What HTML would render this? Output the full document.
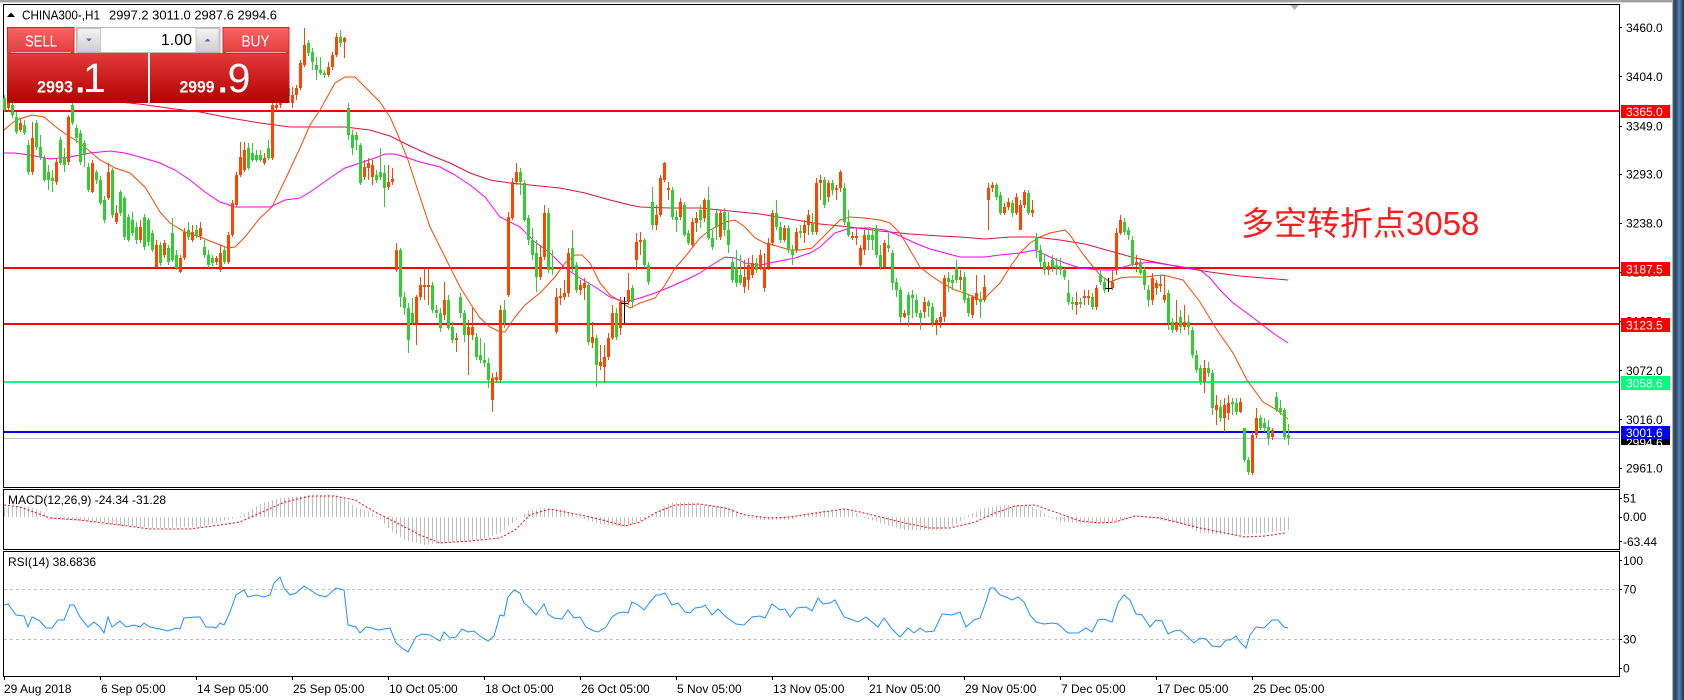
<!DOCTYPE html>
<html><head><meta charset="utf-8"><style>
html,body{margin:0;padding:0;background:#fff;}
body{width:1684px;height:700px;overflow:hidden;}
svg{display:block;}
text{font-family:"Liberation Sans",sans-serif;}
</style></head><body>
<svg width="1684" height="700" viewBox="0 0 1684 700" xmlns="http://www.w3.org/2000/svg">
<defs>
<pattern id="hp" patternUnits="userSpaceOnUse" x="0" y="0" width="4" height="700"><rect x="0" y="0" width="1" height="700" fill="#c0c0c0"/></pattern>
<linearGradient id="topBox" x1="0" y1="0" x2="0" y2="1"><stop offset="0" stop-color="#fa6464"/><stop offset="1" stop-color="#e43c3c"/></linearGradient>
<linearGradient id="lowBox" x1="0" y1="0" x2="0" y2="1"><stop offset="0" stop-color="#e33a3a"/><stop offset="1" stop-color="#b30202"/></linearGradient>
<linearGradient id="btn" x1="0" y1="0" x2="0" y2="1"><stop offset="0" stop-color="#f4f4f4"/><stop offset="1" stop-color="#cfcfcf"/></linearGradient>
<linearGradient id="edge" x1="0" y1="0" x2="1" y2="0"><stop offset="0" stop-color="#22324e"/><stop offset="0.5" stop-color="#4f86c0"/><stop offset="1" stop-color="#1e2c48"/></linearGradient>
</defs>
<rect x="0" y="0" width="1684" height="700" fill="#fff"/>
<!-- window chrome -->
<rect x="0" y="0" width="1684" height="2.4" fill="#a0a0a0"/>
<rect x="1672" y="0" width="1" height="700" fill="#b0b0b0"/>
<rect x="1673" y="0" width="1.5" height="700" fill="#5a5a5a"/>
<rect x="1674.5" y="0" width="9.5" height="700" fill="url(#edge)"/>
<polygon points="1290,5 1299,5 1294.5,10" fill="#b4b4b4"/>

<!-- panels borders -->
<rect x="3.5" y="4.5" width="1616" height="483" fill="none" stroke="#000" stroke-width="1"/>
<rect x="3.5" y="489.5" width="1616" height="60" fill="none" stroke="#000" stroke-width="1"/>
<rect x="3.5" y="551.5" width="1616" height="125" fill="none" stroke="#000" stroke-width="1"/>

<!-- horizontal level lines -->
<rect x="4" y="110" width="1615" height="2" fill="#ff0000"/>
<rect x="4" y="267" width="1615" height="2" fill="#ff0000"/>
<rect x="4" y="323" width="1615" height="2" fill="#ff0000"/>
<rect x="4" y="381" width="1615" height="2" fill="#00ff7f"/>
<rect x="4" y="431" width="1615" height="2" fill="#0000ff"/>
<rect x="4" y="438" width="1615" height="1" fill="#c0c0c0"/>

<!-- moving averages -->
<polyline fill="none" stroke="#dc143c" stroke-width="1" points="100,100 139,104 175,109 200,112 230,118 260,123 290,127 345,127 370,130 390,136 410,146 430,155 450,163 470,173 490,180 510,183 540,186 560,188 585,193 610,200 630,205 640,207 670,208 700,208 730,211 760,214 790,219 820,224 850,227 880,231 910,234 940,236 960,237 985,239 1010,237 1035,237 1060,240 1085,244 1110,251 1135,258 1160,263 1185,268 1210,272 1240,276 1288,280"/>
<polyline fill="none" stroke="#ff00ff" stroke-width="1" points="4,153 15,153 30,155 50,159 70,157 90,153 110,151 125,153 140,157 160,163 175,170 190,180 205,192 220,202 235,207 255,207 270,207 285,200 300,198 310,192 330,178 345,168 360,163 375,158 385,154 395,154 405,157 420,162 440,167 455,175 470,185 485,197 500,217 520,227 535,242 550,253 565,268 580,278 595,287 610,297 625,302 640,298 655,293 670,287 690,278 700,273 715,263 725,257 735,258 745,263 760,265 775,262 795,258 810,253 820,247 835,233 850,228 870,228 885,230 900,236 915,243 930,249 945,253 960,257 985,257 1000,255 1020,253 1035,250 1050,257 1065,263 1080,268 1100,270 1115,270 1130,265 1150,262 1183,267 1200,270 1210,278 1220,290 1233,303 1247,313 1260,323 1273,333 1288,343"/>
<polyline fill="none" stroke="#ff4500" stroke-width="1" points="4,130 16,120 32,115 44,117 56,127 64,133 80,143 100,160 115,168 130,173 145,187 160,212 170,223 185,232 200,237 215,243 228,248 235,247 245,237 260,218 272,207 285,180 300,148 310,125 320,110 335,83 345,77 355,77 368,90 380,102 390,117 398,135 408,160 420,197 430,227 445,257 460,287 470,303 480,318 490,327 500,332 505,332 515,317 525,305 540,293 555,277 565,263 575,255 582,255 590,263 600,283 610,295 620,301 630,308 640,303 655,298 665,285 675,268 685,257 700,238 710,230 725,222 735,220 745,227 755,238 765,243 780,247 790,250 800,250 812,248 820,240 840,220 850,217 865,218 880,220 890,223 900,233 910,250 920,267 930,275 942,283 955,290 965,293 980,300 985,298 1000,283 1010,267 1020,253 1030,243 1040,237 1050,233 1065,230 1070,235 1080,250 1090,263 1100,275 1110,282 1120,278 1130,277 1145,277 1163,275 1183,280 1200,302 1217,330 1233,353 1247,380 1263,402 1277,410 1288,419"/>

<!-- candles: green wicks -->
<path fill="none" stroke="#32cd32" stroke-width="1" d="M4.5 95V112M12.5 103V118M16.5 112V134M24.5 120V135M28.5 140V175M36.5 120V150M40.5 135V160M44.5 155V182M48.5 165V190M52.5 170V192M60.5 137V165M64.5 148V172M72.5 103V125M76.5 125V143M80.5 130V165M84.5 140V167M88.5 163V192M96.5 170V184M100.5 176V205M104.5 196V223M112.5 168V218M120.5 190V216M124.5 196V240M128.5 214V242M132.5 212V236M136.5 222V244M144.5 214V250M148.5 218V246M152.5 230V252M160.5 242V266M168.5 245V265M172.5 218V262M176.5 250V270M188.5 222V240M196.5 225V238M204.5 240V258M208.5 250V268M212.5 255V266M224.5 246V264M248.5 143V170M252.5 143V162M256.5 150V162M260.5 150V162M268.5 140V160M288.5 85V100M308.5 40V56M312.5 48V70M316.5 57V80M320.5 57V75M324.5 70V78M340.5 30V47M348.5 103V140M352.5 130V155M356.5 132V150M360.5 143V185M376.5 170V183M380.5 148V180M384.5 165V207M400.5 248V307M404.5 292V315M408.5 303V353M412.5 298V325M432.5 282V313M436.5 305V318M440.5 308V332M448.5 295V330M452.5 322V343M460.5 293V318M464.5 310V342M476.5 333V360M480.5 338V363M484.5 343V367M488.5 358V388M504.5 300V328M520.5 168V195M524.5 180V222M528.5 215V245M532.5 228V260M536.5 240V292M548.5 208V273M552.5 250V275M572.5 230V272M576.5 262V293M588.5 282V345M596.5 335V387M616.5 308V340M632.5 285V308M644.5 238V268M648.5 262V285M652.5 187V230M672.5 187V220M676.5 210V232M684.5 202V237M688.5 230V245M700.5 205V228M708.5 187V240M712.5 230V250M716.5 210V240M724.5 208V236M728.5 212V253M732.5 258V283M736.5 250V287M740.5 255V285M756.5 258V273M776.5 200V230M780.5 222V243M788.5 225V253M792.5 245V265M800.5 225V238M812.5 213V235M824.5 177V208M832.5 180V195M844.5 183V225M848.5 210V237M868.5 228V250M872.5 228V250M876.5 225V258M880.5 245V270M888.5 233V252M892.5 250V290M896.5 278V297M900.5 287V323M908.5 292V327M912.5 290V318M916.5 295V317M920.5 310V330M928.5 300V317M932.5 303V327M948.5 272V292M952.5 275V290M956.5 260V283M964.5 272V303M968.5 295V317M980.5 292V318M996.5 183V200M1000.5 192V215M1012.5 200V217M1028.5 190V215M1036.5 233V258M1040.5 245V267M1044.5 255V275M1052.5 255V272M1056.5 258V275M1060.5 258V275M1064.5 268V280M1068.5 280V305M1072.5 297V310M1080.5 298V308M1092.5 293V310M1100.5 270V285M1104.5 278V293M1124.5 218V235M1128.5 227V240M1132.5 236V268M1140.5 258V275M1144.5 267V290M1148.5 285V307M1168.5 290V330M1172.5 318V333M1180.5 310V333M1188.5 315V335M1192.5 327V358M1196.5 350V373M1200.5 365V385M1208.5 362V377M1212.5 370V415M1220.5 400V422M1232.5 398V415M1236.5 398V415M1244.5 428V462M1248.5 457V475M1260.5 415V430M1264.5 418V432M1268.5 420V445M1276.5 392V412M1280.5 400V415M1284.5 408V440M1288.5 424V445"/>
<!-- green bodies -->
<path fill="#32cd32" d="M3 98h3V110h-3zM11 105h3V115h-3zM15 117h3V132h-3zM23 125h3V133h-3zM27 145h3V172h-3zM35 123h3V147h-3zM39 147h3V157h-3zM43 158h3V180h-3zM47 172h3V180h-3zM51 178h3V181h-3zM59 140h3V163h-3zM63 157h3V165h-3zM71 105h3V123h-3zM75 128h3V138h-3zM79 133h3V162h-3zM83 143h3V155h-3zM87 167h3V190h-3zM95 172h3V180h-3zM99 180h3V203h-3zM103 200h3V220h-3zM111 170h3V215h-3zM119 192h3V213h-3zM123 198h3V237h-3zM127 217h3V240h-3zM131 220h3V233h-3zM135 227h3V240h-3zM143 217h3V247h-3zM147 220h3V242h-3zM151 233h3V250h-3zM159 245h3V263h-3zM167 248h3V262h-3zM171 233h3V260h-3zM175 255h3V268h-3zM187 230h3V237h-3zM195 230h3V236h-3zM203 247h3V255h-3zM207 255h3V265h-3zM211 258h3V263h-3zM223 250h3V262h-3zM247 148h3V168h-3zM251 153h3V160h-3zM255 155h3V160h-3zM259 155h3V160h-3zM267 148h3V158h-3zM287 88h3V96h-3zM307 43h3V53h-3zM311 52h3V62h-3zM315 65h3V70h-3zM319 70h3V73h-3zM323 73h3V75h-3zM339 37h3V43h-3zM347 108h3V135h-3zM351 135h3V148h-3zM355 135h3V140h-3zM359 145h3V183h-3zM375 175h3V180h-3zM379 172h3V177h-3zM383 173h3V188h-3zM399 250h3V297h-3zM403 297h3V308h-3zM407 308h3V340h-3zM411 313h3V323h-3zM431 285h3V310h-3zM435 310h3V313h-3zM439 313h3V328h-3zM447 300h3V328h-3zM451 327h3V340h-3zM459 297h3V313h-3zM463 313h3V335h-3zM475 337h3V357h-3zM479 355h3V360h-3zM483 360h3V363h-3zM487 363h3V380h-3zM503 310h3V323h-3zM519 172h3V182h-3zM523 183h3V220h-3zM527 218h3V240h-3zM531 240h3V255h-3zM535 253h3V277h-3zM547 213h3V270h-3zM551 267h3V270h-3zM571 248h3V267h-3zM575 265h3V290h-3zM587 285h3V342h-3zM595 338h3V365h-3zM615 313h3V337h-3zM631 288h3V302h-3zM643 240h3V265h-3zM647 265h3V282h-3zM651 202h3V225h-3zM671 190h3V217h-3zM675 217h3V220h-3zM683 205h3V235h-3zM687 233h3V243h-3zM699 210h3V220h-3zM707 200h3V238h-3zM711 238h3V247h-3zM715 213h3V227h-3zM723 212h3V230h-3zM727 230h3V245h-3zM731 262h3V280h-3zM735 267h3V283h-3zM739 275h3V283h-3zM755 263h3V270h-3zM775 213h3V227h-3zM779 227h3V240h-3zM787 228h3V250h-3zM791 250h3V255h-3zM799 231h3V233h-3zM811 223h3V232h-3zM823 180h3V205h-3zM831 183h3V190h-3zM843 188h3V222h-3zM847 222h3V235h-3zM867 235h3V240h-3zM871 235h3V240h-3zM875 228h3V255h-3zM879 255h3V267h-3zM887 245h3V248h-3zM891 253h3V283h-3zM895 282h3V290h-3zM899 290h3V317h-3zM907 295h3V315h-3zM911 295h3V298h-3zM915 300h3V313h-3zM919 313h3V318h-3zM927 302h3V306h-3zM931 307h3V323h-3zM947 278h3V282h-3zM951 280h3V283h-3zM955 267h3V280h-3zM963 277h3V300h-3zM967 298h3V313h-3zM979 300h3V302h-3zM995 185h3V197h-3zM999 195h3V213h-3zM1011 203h3V213h-3zM1027 193h3V213h-3zM1035 238h3V250h-3zM1039 250h3V262h-3zM1043 262h3V270h-3zM1051 260h3V267h-3zM1055 265h3V268h-3zM1059 266h3V270h-3zM1063 270h3V277h-3zM1067 293h3V302h-3zM1071 302h3V304h-3zM1079 302h3V304h-3zM1091 297h3V307h-3zM1099 275h3V282h-3zM1103 282h3V290h-3zM1123 222h3V232h-3zM1127 230h3V235h-3zM1131 240h3V265h-3zM1139 262h3V273h-3zM1143 270h3V285h-3zM1147 290h3V300h-3zM1167 293h3V323h-3zM1171 322h3V330h-3zM1179 317h3V327h-3zM1187 322h3V327h-3zM1191 330h3V355h-3zM1195 355h3V370h-3zM1199 368h3V382h-3zM1207 368h3V373h-3zM1211 373h3V408h-3zM1219 407h3V418h-3zM1231 402h3V404h-3zM1235 403h3V412h-3zM1243 428h3V460h-3zM1247 460h3V472h-3zM1259 418h3V428h-3zM1263 423h3V428h-3zM1267 427h3V438h-3zM1275 397h3V410h-3zM1279 408h3V412h-3zM1283 410h3V437h-3zM1287 435h3V438h-3z"/>
<!-- orange wicks -->
<path fill="none" stroke="#ff4500" stroke-width="1" d="M8.5 97V112M20.5 118V132M32.5 122V175M56.5 158V185M68.5 115V165M92.5 160V193M108.5 163V200M116.5 205V224M140.5 220V243M156.5 240V268M164.5 240V258M180.5 255V273M184.5 228V260M192.5 225V242M200.5 222V240M216.5 256V265M220.5 245V272M228.5 232V264M232.5 200V237M236.5 172V207M240.5 142V177M244.5 142V172M264.5 153V165M272.5 103V160M276.5 103V110M280.5 92V108M284.5 87V103M292.5 87V108M296.5 85V100M300.5 60V90M304.5 28V67M328.5 62V77M332.5 52V70M336.5 33V57M344.5 37V58M364.5 160V180M368.5 158V180M372.5 160V185M388.5 165V190M392.5 168V185M396.5 243V272M416.5 295V345M420.5 277V300M424.5 268V300M428.5 268V305M444.5 282V320M456.5 333V352M468.5 320V375M472.5 308V340M492.5 373V412M496.5 372V383M500.5 305V383M508.5 212V297M512.5 178V220M516.5 163V185M540.5 245V280M544.5 205V260M556.5 288V334M560.5 288V305M564.5 280V300M568.5 248V297M580.5 280V295M584.5 278V300M592.5 322V348M600.5 345V370M604.5 345V383M608.5 333V360M612.5 305V340M620.5 297V335M628.5 273V305M636.5 233V270M640.5 232V255M656.5 205V230M660.5 175V217M664.5 162V182M668.5 182V200M680.5 198V220M692.5 218V247M696.5 212V232M704.5 198V222M720.5 210V240M744.5 260V293M748.5 258V290M752.5 255V278M760.5 250V270M764.5 253V292M768.5 238V270M772.5 210V245M784.5 225V242M796.5 228V253M804.5 220V243M808.5 210V235M816.5 178V235M820.5 175V200M828.5 180V202M836.5 185V200M840.5 170V192M852.5 232V240M856.5 228V245M860.5 245V267M864.5 230V255M884.5 240V268M904.5 310V318M924.5 297V318M936.5 318V335M940.5 312V328M944.5 275V322M960.5 270V290M972.5 295V318M976.5 275V305M984.5 275V302M988.5 183V230M992.5 182V192M1004.5 203V215M1008.5 198V210M1016.5 193V215M1020.5 200V230M1024.5 190V208M1032.5 200V217M1048.5 262V275M1076.5 292V315M1084.5 290V305M1088.5 290V305M1096.5 285V310M1112.5 270V290M1116.5 228V275M1120.5 215V235M1136.5 255V272M1152.5 273V305M1156.5 280V295M1160.5 275V292M1164.5 275V303M1176.5 300V332M1184.5 305V330M1204.5 360V393M1216.5 395V425M1224.5 398V432M1228.5 395V420M1240.5 398V413M1252.5 432V475M1256.5 408V438M1272.5 428V440"/>
<!-- orange bodies -->
<path fill="#ff4500" d="M7 100h3V108h-3zM19 123h3V130h-3zM31 138h3V172h-3zM55 162h3V182h-3zM67 117h3V162h-3zM91 163h3V192h-3zM107 172h3V198h-3zM115 213h3V222h-3zM139 227h3V240h-3zM155 245h3V267h-3zM163 243h3V255h-3zM179 258h3V272h-3zM183 232h3V258h-3zM191 232h3V240h-3zM199 228h3V236h-3zM215 258h3V262h-3zM219 253h3V270h-3zM227 235h3V262h-3zM231 203h3V235h-3zM235 175h3V205h-3zM239 157h3V175h-3zM243 150h3V170h-3zM263 158h3V163h-3zM271 105h3V158h-3zM275 105h3V108h-3zM279 95h3V105h-3zM283 90h3V100h-3zM291 95h3V103h-3zM295 88h3V95h-3zM299 63h3V88h-3zM303 45h3V65h-3zM327 67h3V75h-3zM331 55h3V67h-3zM335 37h3V55h-3zM343 38h3V42h-3zM363 167h3V177h-3zM367 163h3V168h-3zM371 165h3V177h-3zM387 182h3V187h-3zM391 179h3V182h-3zM395 250h3V270h-3zM415 297h3V323h-3zM419 285h3V297h-3zM423 285h3V287h-3zM427 285h3V287h-3zM443 300h3V315h-3zM455 338h3V340h-3zM467 327h3V335h-3zM471 327h3V335h-3zM491 378h3V400h-3zM495 377h3V380h-3zM499 310h3V380h-3zM507 217h3V295h-3zM511 182h3V218h-3zM515 172h3V182h-3zM539 257h3V277h-3zM543 213h3V257h-3zM555 297h3V332h-3zM559 296h3V298h-3zM563 293h3V297h-3zM567 253h3V293h-3zM579 285h3V290h-3zM583 283h3V288h-3zM591 337h3V343h-3zM599 362h3V366h-3zM603 357h3V367h-3zM607 338h3V357h-3zM611 313h3V338h-3zM619 302h3V328h-3zM627 290h3V302h-3zM635 242h3V260h-3zM639 240h3V242h-3zM655 215h3V225h-3zM659 178h3V215h-3zM663 163h3V180h-3zM667 188h3V190h-3zM679 202h3V217h-3zM691 222h3V245h-3zM695 218h3V223h-3zM703 200h3V218h-3zM719 213h3V237h-3zM743 277h3V287h-3zM747 265h3V280h-3zM751 263h3V275h-3zM759 255h3V268h-3zM763 267h3V288h-3zM767 243h3V267h-3zM771 213h3V243h-3zM783 228h3V240h-3zM795 232h3V250h-3zM803 225h3V233h-3zM807 215h3V225h-3zM815 183h3V232h-3zM819 180h3V183h-3zM827 183h3V197h-3zM835 188h3V190h-3zM839 172h3V188h-3zM851 236h3V238h-3zM855 236h3V238h-3zM859 248h3V265h-3zM863 235h3V250h-3zM883 243h3V267h-3zM903 313h3V317h-3zM923 302h3V312h-3zM935 320h3V323h-3zM939 317h3V322h-3zM943 278h3V317h-3zM959 277h3V280h-3zM971 297h3V315h-3zM975 293h3V300h-3zM983 287h3V300h-3zM987 188h3V200h-3zM991 185h3V188h-3zM1003 207h3V213h-3zM1007 202h3V207h-3zM1015 197h3V213h-3zM1019 205h3V230h-3zM1023 192h3V205h-3zM1031 210h3V213h-3zM1047 266h3V270h-3zM1075 302h3V305h-3zM1083 296h3V298h-3zM1087 296h3V298h-3zM1095 288h3V307h-3zM1111 282h3V288h-3zM1115 233h3V270h-3zM1119 220h3V233h-3zM1135 262h3V265h-3zM1151 278h3V300h-3zM1155 283h3V288h-3zM1159 284h3V286h-3zM1163 295h3V300h-3zM1175 322h3V330h-3zM1183 322h3V327h-3zM1203 368h3V382h-3zM1215 405h3V410h-3zM1223 405h3V418h-3zM1227 403h3V413h-3zM1239 402h3V412h-3zM1251 435h3V473h-3zM1255 418h3V435h-3zM1271 430h3V437h-3z"/>
<!-- crosshair markers -->
<path fill="none" stroke="#000" stroke-width="1" d="M624.5 297V323M621 303.5H628M1108.5 278V292M1105 288.5H1112"/>

<!-- annotation -->
<text x="1241" y="235" font-size="33" fill="#ff1c1c" style="font-family:'Liberation Sans','Noto Sans CJK SC',sans-serif">多空转折点3058</text>

<!-- price axis labels -->
<g font-size="12" fill="#000">
<text x="1626" y="32">3460.0</text>
<text x="1626" y="81">3404.0</text>
<text x="1626" y="130.5">3349.0</text>
<text x="1626" y="178.5">3293.0</text>
<text x="1626" y="227.5">3238.0</text>
<text x="1626" y="276.5">3183.0</text>
<text x="1626" y="325.5">3127.0</text>
<text x="1626" y="375">3072.0</text>
<text x="1626" y="424">3016.0</text>
<text x="1626" y="472.5">2961.0</text>
</g>
<path stroke="#000" stroke-width="1" d="M1619 27.5h3M1619 76.5h3M1619 126.5h3M1619 174.5h3M1619 223.5h3M1619 272.5h3M1619 321.5h3M1619 370.5h3M1619 419.5h3M1619 468.5h3M1619 498.5h3M1619 517.5h3M1619 541.5h3M1619 560.5h3M1619 589.5h3M1619 639.5h3M1619 668.5h3"/>
<!-- level label boxes -->
<rect x="1621" y="105" width="49" height="13" fill="#ff0000"/>
<rect x="1621" y="262" width="49" height="14" fill="#ff0000"/>
<rect x="1621" y="318" width="49" height="14" fill="#ff0000"/>
<rect x="1621" y="376" width="49" height="14" fill="#00ff7f"/>
<rect x="1621" y="439" width="49" height="6" fill="#000"/>
<text x="1626" y="447" font-size="12" fill="#fff">2994.6</text>
<rect x="1621" y="426" width="49" height="13" fill="#0000ff"/>
<g font-size="12" fill="#fff">
<text x="1626" y="116">3365.0</text>
<text x="1626" y="273.5">3187.5</text>
<text x="1626" y="329.5">3123.5</text>
<text x="1626" y="387.5">3058.6</text>
<text x="1626" y="437">3001.6</text>
</g>

<!-- MACD -->
<polygon fill="url(#hp)" points="4,517 4,507 30,507 45,513 50,519 100,522 120,526 160,528 200,527 215,523 235,518 245,514 260,504 280,498 300,496 330,495 345,499 355,507 370,512 378,517 390,530 405,540 425,545 450,542 480,540 500,533 510,525 520,517 530,510 545,508 565,510 580,518 600,524 625,527 640,521 655,513 670,503 690,502 705,505 730,507 742,517 760,520 790,520 805,514 830,512 845,509 855,512 862,517 880,523 905,530 940,530 955,525 970,514 985,508 1005,505 1030,506 1040,510 1050,517 1060,522 1080,523 1110,524 1125,519 1140,516 1150,518 1165,521 1185,525 1200,533 1230,535 1255,534 1289,530 1289,517"/>
<polyline fill="none" stroke="#ff0000" stroke-width="1" stroke-dasharray="2,2" points="4,505 20,507 50,518 80,520 120,525 150,529 190,529 220,525 240,522 260,513 285,502 310,496 335,496 355,500 375,512 395,522 420,535 440,543 470,541 500,538 515,530 530,515 550,509 570,513 590,517 610,522 625,526 640,522 655,513 675,505 700,504 725,508 745,515 770,518 790,517 815,513 845,509 860,512 880,517 905,523 930,528 950,528 975,522 995,513 1015,506 1035,505 1055,512 1080,521 1100,523 1115,522 1135,516 1160,518 1180,523 1200,528 1225,533 1245,537 1265,536 1285,533"/>
<text x="8" y="504" font-size="12" fill="#000">MACD(12,26,9) -24.34 -31.28</text>
<g font-size="12" fill="#000">
<text x="1623" y="502.5">51</text>
<text x="1623" y="521">0.00</text>
<text x="1623" y="546">-63.44</text>
</g>

<!-- RSI -->
<path stroke="#c0c0c0" stroke-width="1" stroke-dasharray="3,3" d="M4 589.5H1619M4 639.5H1619"/>
<polyline fill="none" stroke="#1e90ff" stroke-width="1" points="4,605 8,604 16,615 24,616 28,627 32,617 40,621 46,628 52,628 58,620 64,620 70,605 74,605 80,617 88,627 94,622 100,627 104,633 108,617 112,627 120,621 126,627 134,625 140,627 144,623 150,627 160,629 168,631 176,628 180,629 184,618 196,617 200,617 206,627 212,627 216,628 220,623 224,625 230,612 236,595 244,590 248,597 256,595 264,597 270,595 274,583 280,577 284,588 290,595 296,593 304,586 310,590 318,595 326,597 336,588 344,590 348,625 356,627 360,633 366,627 372,628 378,630 384,629 390,628 396,643 402,648 408,652 416,637 422,634 430,635 440,641 444,632 450,638 456,637 462,629 468,632 474,631 480,636 488,641 494,636 500,615 504,616 508,597 514,590 520,593 524,603 530,608 536,615 544,604 548,614 554,618 562,619 568,610 574,618 580,617 586,627 594,631 598,632 606,627 612,617 618,613 624,612 628,613 632,602 638,605 644,610 650,602 656,595 660,595 665,593 672,605 678,603 685,612 690,613 695,608 702,607 705,605 712,615 718,609 726,617 736,624 744,625 752,617 760,616 765,618 772,604 780,610 785,609 790,617 797,608 806,607 812,611 818,598 823,604 830,603 835,600 844,617 850,619 858,622 866,617 878,627 884,618 892,629 900,637 908,628 914,633 920,628 926,632 934,631 942,614 952,615 960,612 966,627 974,620 980,618 986,602 990,588 994,588 1000,595 1006,597 1012,600 1018,597 1024,602 1030,615 1036,622 1044,624 1052,623 1058,624 1068,633 1078,633 1086,628 1092,632 1098,620 1104,619 1112,622 1118,603 1124,595 1130,600 1136,614 1142,615 1150,627 1156,620 1162,621 1168,634 1174,631 1180,630 1188,637 1194,643 1200,638 1206,639 1212,646 1220,647 1226,640 1230,640 1236,636 1240,642 1246,648 1250,635 1256,627 1264,628 1272,620 1278,620 1284,627 1288,628"/>
<text x="8" y="566" font-size="12" fill="#000">RSI(14) 38.6836</text>
<g font-size="12" fill="#000">
<text x="1623" y="565">100</text>
<text x="1623" y="593.5">70</text>
<text x="1623" y="643.5">30</text>
<text x="1623" y="672.5">0</text>
</g>

<!-- time axis -->
<path stroke="#000" stroke-width="1" d="M4.5 676v4M100.5 676v4M196.5 676v4M292.5 676v4M388.5 676v4M484.5 676v4M580.5 676v4M676.5 676v4M772.5 676v4M868.5 676v4M964.5 676v4M1060.5 676v4M1156.5 676v4M1252.5 676v4"/>
<g font-size="12" fill="#000">
<text x="4" y="693">29 Aug 2018</text>
<text x="101" y="693">6 Sep 05:00</text>
<text x="197" y="693">14 Sep 05:00</text>
<text x="293" y="693">25 Sep 05:00</text>
<text x="389" y="693">10 Oct 05:00</text>
<text x="485" y="693">18 Oct 05:00</text>
<text x="581" y="693">26 Oct 05:00</text>
<text x="677" y="693">5 Nov 05:00</text>
<text x="773" y="693">13 Nov 05:00</text>
<text x="869" y="693">21 Nov 05:00</text>
<text x="965" y="693">29 Nov 05:00</text>
<text x="1061" y="693">7 Dec 05:00</text>
<text x="1157" y="693">17 Dec 05:00</text>
<text x="1253" y="693">25 Dec 05:00</text>
</g>

<!-- header -->
<polygon points="7,17 11,12.5 15,17" fill="#000"/>
<text x="22" y="19.5" font-size="13" fill="#000" textLength="78" lengthAdjust="spacingAndGlyphs">CHINA300-,H1</text>
<text x="109" y="19.5" font-size="13" fill="#000" textLength="168" lengthAdjust="spacingAndGlyphs">2997.2 3011.0 2987.6 2994.6</text>

<!-- trade panel -->
<rect x="7" y="53" width="141" height="50" fill="url(#lowBox)"/>
<rect x="150" y="53" width="139.5" height="50" fill="url(#lowBox)"/>
<rect x="7.5" y="27.5" width="66.5" height="26" fill="url(#topBox)" stroke="#cc2a2a" stroke-width="1"/>
<rect x="223" y="27.5" width="66" height="26" fill="url(#topBox)" stroke="#cc2a2a" stroke-width="1"/>
<rect x="11" y="52" width="60" height="1" fill="#f3a5a5"/>
<rect x="226" y="52" width="60" height="1" fill="#f3a5a5"/>
<rect x="76.5" y="27.5" width="143.5" height="25" fill="#fff" stroke="#b8b8b8" stroke-width="1"/>
<rect x="77.5" y="28.5" width="23" height="23" fill="url(#btn)" stroke="#c8c8c8" stroke-width="1"/>
<rect x="196" y="28.5" width="23" height="23" fill="url(#btn)" stroke="#c8c8c8" stroke-width="1"/>
<polygon points="86,38.5 92,38.5 89,41.5" fill="#5a6eb4"/>
<polygon points="204.5,41.5 210.5,41.5 207.5,38.5" fill="#5a6eb4"/>
<text x="192" y="45" font-size="16" fill="#000" text-anchor="end">1.00</text>
<text x="25" y="46.5" font-size="16" fill="#fff" textLength="32" lengthAdjust="spacingAndGlyphs">SELL</text>
<text x="241.5" y="46.5" font-size="16" fill="#fff" textLength="28" lengthAdjust="spacingAndGlyphs">BUY</text>
<text x="37" y="92.3" font-size="17" font-weight="bold" fill="#fff" textLength="36" lengthAdjust="spacingAndGlyphs">2993</text>
<text x="75.5" y="92.3" font-size="34" font-weight="bold" fill="#fff">.</text>
<text x="83" y="91.8" font-size="41" fill="#fff">1</text>
<text x="179.5" y="92.3" font-size="17" font-weight="bold" fill="#fff" textLength="35" lengthAdjust="spacingAndGlyphs">2999</text>
<text x="218" y="92.3" font-size="34" font-weight="bold" fill="#fff">.</text>
<text x="227.6" y="91.8" font-size="41" fill="#fff">9</text>
</svg>
</body></html>
